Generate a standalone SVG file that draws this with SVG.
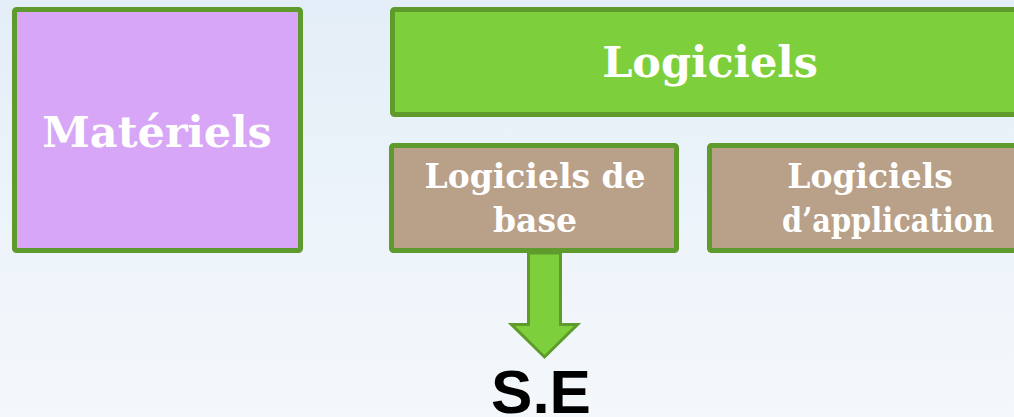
<svg xmlns="http://www.w3.org/2000/svg" width="1014" height="417" viewBox="0 0 1014 417">
  <defs>
    <linearGradient id="bg" x1="0" y1="0" x2="0" y2="1">
      <stop offset="0" stop-color="#e4eef8"/>
      <stop offset="1" stop-color="#f4f8fb"/>
    </linearGradient>
  </defs>
  <style>
    .box { stroke: #5f9a2c; stroke-width: 5; }
    .lbl { font-family: "DejaVu Serif", Georgia, "Liberation Serif", serif; font-weight: bold; fill: #ffffff; text-anchor: middle; }
    .big { font-size: 43px; }
    .small { font-size: 33px; }
  </style>
  <rect x="0" y="0" width="1014" height="417" fill="url(#bg)"/>

  <g id="materiels">
    <rect class="box" x="14.5" y="9.5" width="286" height="241" rx="2" fill="#d8a6f6"/>
    <text class="lbl big" x="157" y="147">Matériels</text>
  </g>

  <g id="logiciels">
    <rect class="box" x="392.5" y="9.5" width="650" height="105" rx="2" fill="#7dd03b"/>
    <text class="lbl big" x="710" y="77">Logiciels</text>
  </g>

  <g id="logiciels-base">
    <rect class="box" x="391.5" y="145.5" width="285" height="105" rx="2" fill="#b9a089"/>
    <text class="lbl small" x="535" y="188">Logiciels de</text>
    <text class="lbl small" x="535" y="232">base</text>
  </g>

  <g id="logiciels-application">
    <rect class="box" x="709.5" y="145.5" width="340" height="105" rx="2" fill="#b9a089"/>
    <text class="lbl small" x="870" y="188">Logiciels</text>
    <text class="lbl small" x="888" y="232" textLength="212" lengthAdjust="spacingAndGlyphs">d’application</text>
  </g>

  <g id="connectors">
    <polygon points="528.5,253 560.5,253 560.5,324.5 577.5,324.5 544.5,357 511.5,324.5 528.5,324.5" fill="#7dd03b" stroke="#5f9a2c" stroke-width="3" stroke-linejoin="miter"/>
  </g>

  <g id="se">
    <text x="541" y="413" font-family="'Liberation Sans', Arial, sans-serif" font-weight="bold" font-size="62" fill="#000000" text-anchor="middle">S.E</text>
  </g>
</svg>
